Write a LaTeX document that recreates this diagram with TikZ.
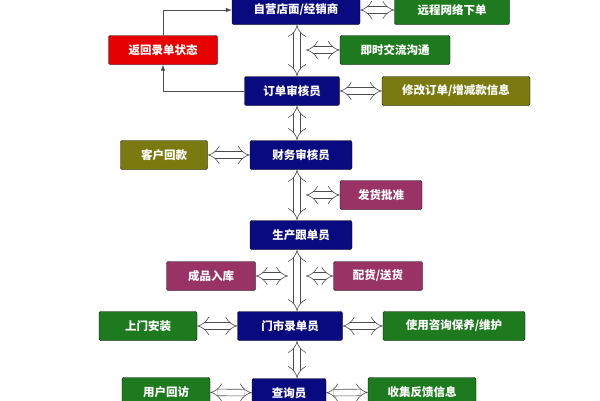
\documentclass[tikz,border=0pt]{standalone}
\usepackage{fontspec}
\setmainfont{Noto Sans CJK SC}
\usetikzlibrary{arrows.meta}

\definecolor{boxnavy}{HTML}{0A0A80}
\definecolor{boxgreen}{HTML}{1E7A1E}
\definecolor{boxolive}{HTML}{7A7A10}
\definecolor{boxred}{HTML}{E60000}
\definecolor{boxplum}{HTML}{993366}

\tikzset{
  box/.style={draw=black, rounded corners=2pt, text=white, font=\bfseries\fontsize{11.5}{13}\selectfont,
    inner sep=0pt, minimum height=29pt},
  dbl/.style={draw=black!70, double=white, double distance=6pt, line width=0.6pt,
    {Implies[length=6pt]}-{Implies[length=6pt]}},
  loop/.style={draw=black!70, line width=0.6pt, -{Latex[length=6pt]}}
}

\begin{document}
\begin{tikzpicture}[x=1pt,y=-1pt]
  \useasboundingbox (0,0) rectangle (600,400);

  %main column
  \node[box, fill=boxnavy, minimum width=128pt] (shop) at (296,10) {自营店面/经销商};
  \node[box, fill=boxnavy, minimum width=95pt] (audit) at (292,91) {订单审核员};
  \node[box, fill=boxnavy, minimum width=102pt] (fin) at (301,155) {财务审核员};
  \node[box, fill=boxnavy, minimum width=102pt] (prod) at (301,235) {生产跟单员};
  \node[box, fill=boxnavy, minimum width=105pt] (store) at (290,326) {门市录单员};
  \node[box, fill=boxnavy, minimum width=74pt] (query) at (289,393) {查询员};

  %side boxes
  \node[box, fill=boxgreen, minimum width=115pt] (remote) at (452,10) {远程网络下单};
  \node[box, fill=boxred, minimum width=109pt] (back) at (163,50) {返回录单状态};
  \node[box, fill=boxgreen, minimum width=110pt] (chat) at (395,50) {即时交流沟通};
  \node[box, fill=boxolive, minimum width=148pt] (edit) at (456,91) {修改订单/增减款信息};
  \node[box, fill=boxolive, minimum width=87pt] (pay) at (164,155) {客户回款};
  \node[box, fill=boxplum, minimum width=82pt] (ship) at (381,195) {发货批准};
  \node[box, fill=boxplum, minimum width=89pt] (stock) at (211,276) {成品入库};
  \node[box, fill=boxplum, minimum width=89pt] (deliver) at (378,276) {配货/送货};
  \node[box, fill=boxgreen, minimum width=98pt] (install) at (148,326) {上门安装};
  \node[box, fill=boxgreen, minimum width=142pt] (care) at (454,326) {使用咨询保养/维护};
  \node[box, fill=boxgreen, minimum width=88pt] (visit) at (166,392) {用户回访};
  \node[box, fill=boxgreen, minimum width=108pt] (collect) at (422,392) {收集反馈信息};

  %vertical arrows
  \draw[dbl] (297,25) -- (297,76);
  \draw[dbl] (297,106) -- (297,140);
  \draw[dbl] (297,170) -- (297,220);
  \draw[dbl] (297,250) -- (297,311);
  \draw[dbl] (297,341) -- (297,378);

  %side arrows
  \draw[dbl] (shop) -- (remote);
  \draw[dbl] (306,50) -- (chat);
  \draw[dbl] (audit) -- (edit);
  \draw[dbl] (pay) -- (fin);
  \draw[dbl] (306,195) -- (ship);
  \draw[dbl] (stock) -- (288,276);
  \draw[dbl] (306,276) -- (deliver);
  \draw[dbl] (install) -- (store);
  \draw[dbl] (store) -- (care);
  \draw[dbl] (visit) -- (query);
  \draw[dbl] (query) -- (collect);

  %feedback loop
  \draw[loop] (audit.west) -| (back.south);
  \draw[loop] (back.north) |- (shop.west);
\end{tikzpicture}
\end{document}
